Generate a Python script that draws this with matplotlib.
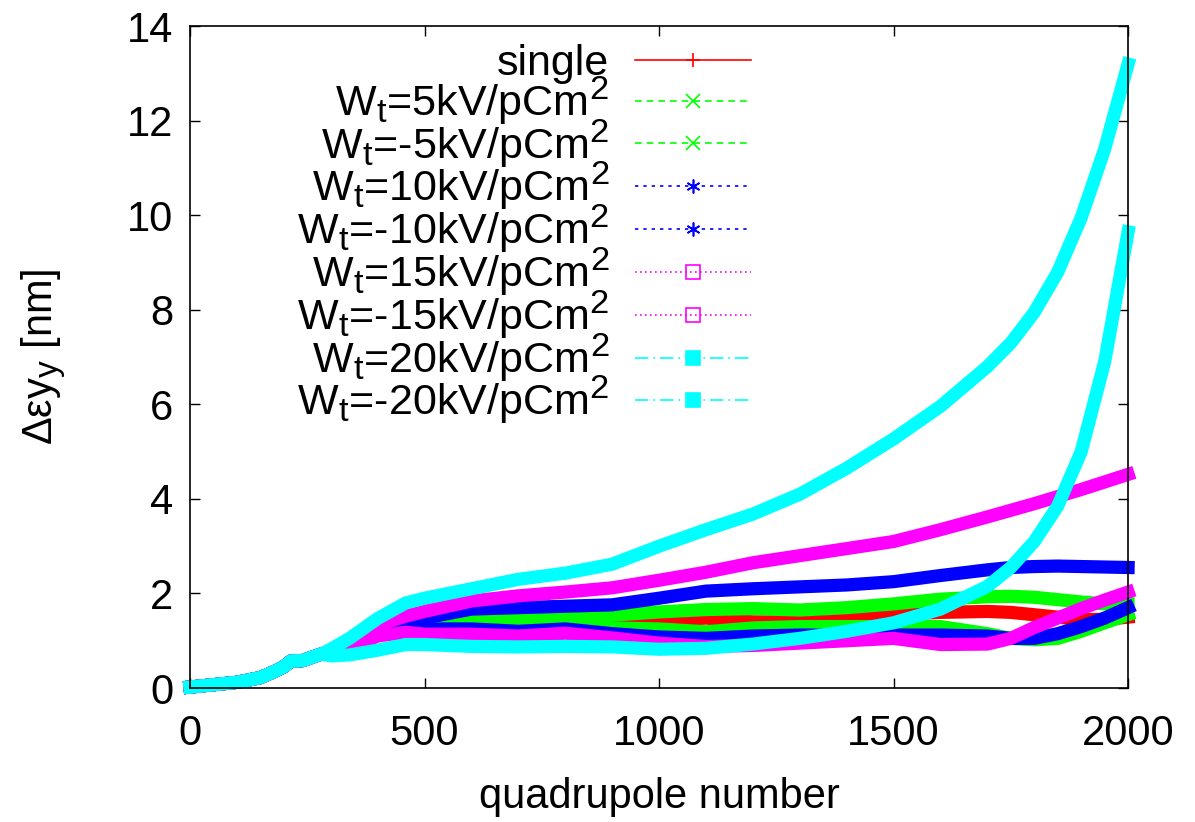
import matplotlib
matplotlib.use('Agg')
import matplotlib.pyplot as plt
import matplotlib._mathtext as mathtext
from matplotlib.lines import Line2D

plt.rcParams['font.family'] = ['Liberation Sans', 'DejaVu Sans']
plt.rcParams['mathtext.fontset'] = 'custom'
plt.rcParams['mathtext.rm'] = 'Liberation Sans'
plt.rcParams['mathtext.it'] = 'Liberation Sans'
plt.rcParams['mathtext.bf'] = 'Liberation Sans:bold'
# gnuplot-ish sub/superscripts are a bit larger than matplotlib's default
mathtext.SHRINK_FACTOR = 0.8

# quadrupole number (sampled)
quad = [0, 50, 100, 150, 180, 200, 215, 240, 280, 300, 340, 400, 460, 500,
        600, 700, 800, 900, 1000, 1100, 1200, 1300, 1400, 1500, 1600, 1700,
        1750, 1800, 1850, 1900, 1950, 2000]

# common start, all runs are identical up to ~280
start = [0.02, 0.07, 0.12, 0.22, 0.35, 0.45, 0.57, 0.58, 0.72]

single = start + [0.76, 0.87, 1.20, 1.33, 1.38, 1.40, 1.33, 1.37, 1.37, 1.42,
                  1.48, 1.40, 1.40, 1.50, 1.56, 1.60, 1.62, 1.60, 1.55, 1.50,
                  1.45, 1.45, 1.50]
wp5 = start + [0.76, 0.87, 1.22, 1.35, 1.40, 1.48, 1.48, 1.48, 1.54, 1.61,
               1.66, 1.68, 1.65, 1.70, 1.78, 1.88, 1.93, 1.94, 1.92, 1.87,
               1.82, 1.78, 1.78]
wm5 = start + [0.76, 0.87, 1.20, 1.30, 1.35, 1.35, 1.29, 1.33, 1.27, 1.25,
               1.19, 1.27, 1.30, 1.30, 1.30, 1.30, 1.15, 1.05, 1.02, 1.05,
               1.20, 1.38, 1.55]
wp10 = start + [0.76, 0.88, 1.25, 1.42, 1.48, 1.67, 1.70, 1.73, 1.76, 1.90,
                2.05, 2.10, 2.14, 2.18, 2.25, 2.38, 2.50, 2.55, 2.57, 2.58,
                2.57, 2.56, 2.55]
wm10 = start + [0.76, 0.86, 1.15, 1.25, 1.25, 1.25, 1.20, 1.25, 1.15, 1.08,
                1.05, 1.10, 1.12, 1.12, 1.12, 1.12, 1.10, 1.05, 1.05, 1.15,
                1.30, 1.48, 1.70]
wp15 = start + [0.78, 0.90, 1.33, 1.52, 1.62, 1.84, 1.95, 2.03, 2.12, 2.28,
                2.45, 2.65, 2.80, 2.95, 3.10, 3.35, 3.62, 3.76, 3.90, 4.05,
                4.20, 4.36, 4.52]
wm15 = start + [0.74, 0.85, 1.10, 1.18, 1.14, 1.14, 1.10, 1.16, 1.06, 0.95,
                0.88, 0.90, 0.95, 1.00, 1.05, 0.92, 0.93, 1.05, 1.28, 1.48,
                1.68, 1.86, 2.03]
wp20 = start + [0.82, 1.05, 1.47, 1.80, 1.90, 2.10, 2.30, 2.43, 2.62, 3.00,
                3.35, 3.68, 4.10, 4.65, 5.27, 5.96, 6.80, 7.30, 7.95, 8.80,
                9.95, 11.40, 13.20]
wm20 = start + [0.68, 0.70, 0.80, 0.92, 0.92, 0.88, 0.87, 0.88, 0.87, 0.82,
                0.84, 0.93, 1.05, 1.20, 1.38, 1.67, 2.15, 2.55, 3.10, 3.85,
                5.00, 6.90, 9.65]

labels = ['single',
          r'W$_t$=5kV/pCm$^2$', r'W$_t$=-5kV/pCm$^2$',
          r'W$_t$=10kV/pCm$^2$', r'W$_t$=-10kV/pCm$^2$',
          r'W$_t$=15kV/pCm$^2$', r'W$_t$=-15kV/pCm$^2$',
          r'W$_t$=20kV/pCm$^2$', r'W$_t$=-20kV/pCm$^2$']
series = [single, wp5, wm5, wp10, wm10, wp15, wm15, wp20, wm20]

colors = ['#ff0000', '#00ff00', '#00ff00', '#0000ff', '#0000ff',
          '#ff00ff', '#ff00ff', '#00ffff', '#00ffff']
styles = ['-', (0, (4, 3)), (0, (4, 3)), (0, (2, 3)), (0, (2, 3)),
          (0, (1, 2)), (0, (1, 2)), (0, (8, 3, 1, 3)), (0, (8, 3, 1, 3))]
markers = ['+', 'x', 'x', (6, 2, 0), (6, 2, 0), 's', 's', 's', 's']
fills = ['full', 'full', 'full', 'full', 'full', 'none', 'none', 'full', 'full']

fig = plt.figure(figsize=(11.95, 8.22), dpi=100)
ax = fig.add_axes([0.159, 0.163, 0.785, 0.805])

for y, c in zip(series, colors):
  ax.plot(quad, y, color=c, lw=9.5, solid_joinstyle='round',
          solid_capstyle='projecting', clip_on=False, zorder=2)

ax.set_xlim(0, 2000)
ax.set_ylim(0, 14)
ax.set_xticks([0, 500, 1000, 1500, 2000])
ax.set_yticks(range(0, 15, 2))
ax.tick_params(direction='in', length=7, width=1, top=True, right=True,
               labelsize=30)
ax.tick_params(axis='x', pad=19)
ax.tick_params(axis='y', pad=12)
for s in ax.spines.values():
  s.set_linewidth(1.2)
  s.set_zorder(3)

ax.set_xlabel('quadrupole number', fontsize=30, labelpad=16)
ax.set_ylabel(r'$\Delta\varepsilon y_y$ [nm]', fontsize=30)
ax.yaxis.set_label_coords(-0.13, 0.5)

handles = []
for c, ls, m, f in zip(colors, styles, markers, fills):
  handles.append(Line2D([], [], color=c, ls=ls, lw=1.2, marker=m,
                        markersize=10, fillstyle=f, markeredgewidth=1.2))
leg = ax.legend(handles, labels, loc='upper right', bbox_to_anchor=(0.612, 0.993),
                frameon=False, markerfirst=False, numpoints=1, fontsize=31,
                handlelength=2.7, handletextpad=0.6, labelspacing=-0.22,
                borderpad=0.3, borderaxespad=0)

fig.savefig('out.png', dpi=100)
